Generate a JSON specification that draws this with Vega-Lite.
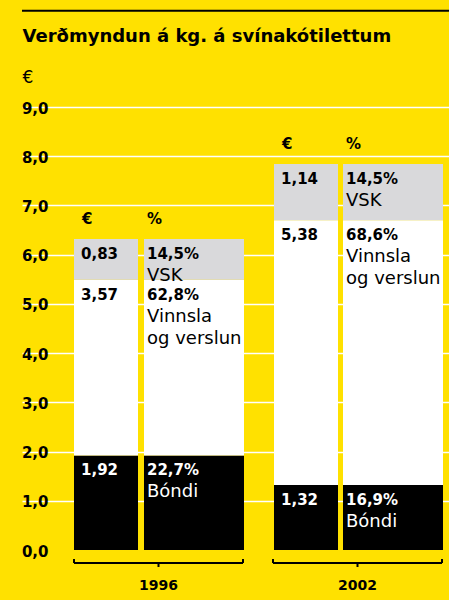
{
  "$schema": "https://vega.github.io/schema/vega-lite/v6.json",
  "width": 389,
  "height": 443,
  "autosize": {"type": "none"},
  "padding": {"left": 60, "top": 107, "right": 0, "bottom": 50},
  "background": "#ffe100",
  "config": {
    "view": {"stroke": null},
    "font": "DejaVu Sans",
    "text": {"font": "DejaVu Sans"},
    "axisX": {"labelFontSize": 14, "labelFontWeight": "bold", "labelColor": "black"}
  },
  "data": {
    "values": [
      {"year": "1996", "segment": "Bóndi", "order": 1, "eur": 1.92, "eurLabel": "1,92", "pct": "22,7%", "name": ["Bóndi"]},
      {"year": "1996", "segment": "Vinnsla og verslun", "order": 2, "eur": 3.57, "eurLabel": "3,57", "pct": "62,8%", "name": ["Vinnsla", "og verslun"]},
      {"year": "1996", "segment": "VSK", "order": 3, "eur": 0.83, "eurLabel": "0,83", "pct": "14,5%", "name": ["VSK"]},
      {"year": "2002", "segment": "Bóndi", "order": 1, "eur": 1.32, "eurLabel": "1,32", "pct": "16,9%", "name": ["Bóndi"]},
      {"year": "2002", "segment": "Vinnsla og verslun", "order": 2, "eur": 5.38, "eurLabel": "5,38", "pct": "68,6%", "name": ["Vinnsla", "og verslun"]},
      {"year": "2002", "segment": "VSK", "order": 3, "eur": 1.14, "eurLabel": "1,14", "pct": "14,5%", "name": ["VSK"]}
    ]
  },
  "transform": [
    {"stack": "eur", "groupby": ["year"], "sort": [{"field": "order", "order": "ascending"}], "as": ["v0", "v1"]}
  ],
  "layer": [
    {
      "transform": [{"filter": "datum.segment === 'VSK' && datum.year === '1996'"}],
      "mark": {"type": "rule", "color": "black", "strokeWidth": 2},
      "encoding": {
        "x": {
          "datum": 0, "type": "quantitative",
          "scale": {"domain": [0, 1], "range": [-38, 389], "nice": false, "zero": false},
          "axis": {
            "orient": "top", "title": "Verðmyndun á kg. á svínakótilettum",
            "titleX": -38, "titleY": -66, "titleAlign": "left", "titleBaseline": "alphabetic", "titleAngle": 0,
            "titleFontSize": 18, "titleFontWeight": "bold", "titleColor": "black", "titleFont": "DejaVu Sans",
            "labels": false, "ticks": false, "domain": false, "grid": false
          }
        },
        "x2": {"datum": 1},
        "y": {
          "datum": 10.955, "type": "quantitative",
          "scale": {"domain": [0, 9], "nice": false},
          "axis": {
            "orient": "left",
            "title": "€", "titleAngle": 0, "titleX": -38, "titleY": -24.5, "titleAlign": "left", "titleBaseline": "alphabetic",
            "titleFontSize": 17, "titleFontWeight": "normal", "titleColor": "black", "titleFont": "DejaVu Sans",
            "values": [0, 1, 2, 3, 4, 5, 6, 7, 8, 9],
            "labelExpr": "replace(format(datum.value, '.1f'), '.', ',')",
            "labelFont": "DejaVu Sans", "labelFontWeight": "bold", "labelFontSize": 15, "labelColor": "black",
            "labelPadding": 12, "labelAlign": "right", "labelBaseline": "middle", "labelOffset": 1,
            "domain": false, "ticks": false, "tickSize": 0,
            "grid": true, "gridColor": "white", "gridWidth": 1.5,
            "gridOpacity": {"condition": {"test": "datum.value === 0", "value": 0}, "value": 1}
          }
        }
      }
    },
    {
      "layer": [
        {
          "mark": {"type": "bar"},
          "encoding": {
            "x": {"field": "year", "type": "nominal", "scale": {"type": "band", "range": [14, 278], "paddingInner": 0.68, "paddingOuter": 0}, "axis": null},
            "y": {"field": "v1", "type": "quantitative", "scale": {"domain": [0, 9], "nice": false}, "axis": null},
            "y2": {"field": "v0"},
            "color": {
              "field": "segment", "type": "nominal",
              "scale": {"domain": ["Bóndi", "Vinnsla og verslun", "VSK"], "range": ["#000000", "#ffffff", "#d9d9db"]},
              "legend": null
            }
          }
        },
        {
          "mark": {"type": "text", "align": "left", "baseline": "alphabetic", "dx": 7, "dy": 20, "fontWeight": "bold", "fontSize": 15},
          "encoding": {
            "x": {"field": "year", "type": "nominal", "bandPosition": 0, "axis": null},
            "y": {"field": "v1", "type": "quantitative", "scale": {"domain": [0, 9], "nice": false}, "axis": null},
            "text": {"field": "eurLabel"},
            "color": {"condition": {"test": "datum.segment === 'Bóndi'", "value": "white"}, "value": "black"}
          }
        },
        {
          "transform": [{"filter": "datum.segment === 'VSK'"}],
          "mark": {"type": "text", "align": "left", "baseline": "alphabetic", "dx": 8, "dy": -15, "fontWeight": "bold", "fontSize": 15, "color": "black"},
          "encoding": {
            "x": {"field": "year", "type": "nominal", "bandPosition": 0, "axis": null},
            "y": {"field": "v1", "type": "quantitative", "scale": {"domain": [0, 9], "nice": false}, "axis": null},
            "text": {"value": "€"}
          }
        }
      ]
    },
    {
      "layer": [
        {
          "mark": {"type": "bar"},
          "encoding": {
            "x": {"field": "year", "type": "nominal", "scale": {"type": "band", "range": [84, 383], "paddingInner": 0.4975, "paddingOuter": 0}, "axis": null},
            "y": {"field": "v1", "type": "quantitative", "scale": {"domain": [0, 9], "nice": false}, "axis": null},
            "y2": {"field": "v0"},
            "color": {
              "field": "segment", "type": "nominal",
              "scale": {"domain": ["Bóndi", "Vinnsla og verslun", "VSK"], "range": ["#000000", "#ffffff", "#d9d9db"]},
              "legend": null
            }
          }
        },
        {
          "mark": {"type": "text", "align": "left", "baseline": "alphabetic", "dx": 3, "dy": 20, "fontWeight": "bold", "fontSize": 15},
          "encoding": {
            "x": {"field": "year", "type": "nominal", "bandPosition": 0, "axis": null},
            "y": {"field": "v1", "type": "quantitative", "scale": {"domain": [0, 9], "nice": false}, "axis": null},
            "text": {"field": "pct"},
            "color": {"condition": {"test": "datum.segment === 'Bóndi'", "value": "white"}, "value": "black"}
          }
        },
        {
          "mark": {"type": "text", "align": "left", "baseline": "alphabetic", "dx": 3, "dy": 42, "fontWeight": "normal", "fontSize": 18, "lineHeight": 22},
          "encoding": {
            "x": {"field": "year", "type": "nominal", "bandPosition": 0, "axis": null},
            "y": {"field": "v1", "type": "quantitative", "scale": {"domain": [0, 9], "nice": false}, "axis": null},
            "text": {"field": "name"},
            "color": {"condition": {"test": "datum.segment === 'Bóndi'", "value": "white"}, "value": "black"}
          }
        },
        {
          "transform": [{"filter": "datum.segment === 'VSK'"}],
          "mark": {"type": "text", "align": "left", "baseline": "alphabetic", "dx": 3, "dy": -15, "fontWeight": "bold", "fontSize": 15, "color": "black"},
          "encoding": {
            "x": {"field": "year", "type": "nominal", "bandPosition": 0, "axis": null},
            "y": {"field": "v1", "type": "quantitative", "scale": {"domain": [0, 9], "nice": false}, "axis": null},
            "text": {"value": "%"}
          }
        }
      ]
    },
    {
      "transform": [{"filter": "datum.segment === 'VSK'"}],
      "layer": [
        {
          "mark": {"type": "bar", "color": "black"},
          "encoding": {
            "x": {
              "field": "year", "type": "nominal",
              "scale": {"type": "band", "range": [14, 382], "paddingInner": 0.1508, "paddingOuter": 0},
              "axis": {
                "orient": "bottom", "title": null, "domain": false, "ticks": false, "tickSize": 0,
                "labelPadding": 39, "labelBaseline": "alphabetic", "labelFontSize": 14, "labelFontWeight": "bold",
                "labelColor": "black", "labelAngle": 0, "labelFont": "DejaVu Sans", "grid": false
              }
            },
            "y": {"datum": -0.244, "type": "quantitative", "scale": {"domain": [0, 9], "nice": false}, "axis": null},
            "y2": {"datum": -0.285}
          }
        },
        {
          "mark": {"type": "rule", "color": "black", "strokeWidth": 2},
          "encoding": {
            "x": {"field": "year", "type": "nominal", "bandPosition": 0, "axis": null},
            "y": {"datum": -0.264, "type": "quantitative", "scale": {"domain": [0, 9], "nice": false}, "axis": null},
            "y2": {"datum": -0.183}
          }
        },
        {
          "mark": {"type": "rule", "color": "black", "strokeWidth": 2},
          "encoding": {
            "x": {"field": "year", "type": "nominal", "bandPosition": 1, "axis": null},
            "y": {"datum": -0.264, "type": "quantitative", "scale": {"domain": [0, 9], "nice": false}, "axis": null},
            "y2": {"datum": -0.183}
          }
        },
        {
          "mark": {"type": "rule", "color": "black", "strokeWidth": 2},
          "encoding": {
            "x": {"field": "year", "type": "nominal", "bandPosition": 0.5, "axis": null},
            "y": {"datum": -0.264, "type": "quantitative", "scale": {"domain": [0, 9], "nice": false}, "axis": null},
            "y2": {"datum": -0.346}
          }
        }
      ],
      "resolve": {"axis": {"x": "independent"}}
    }
  ],
  "resolve": {"scale": {"x": "independent"}, "axis": {"y": "independent"}}
}
